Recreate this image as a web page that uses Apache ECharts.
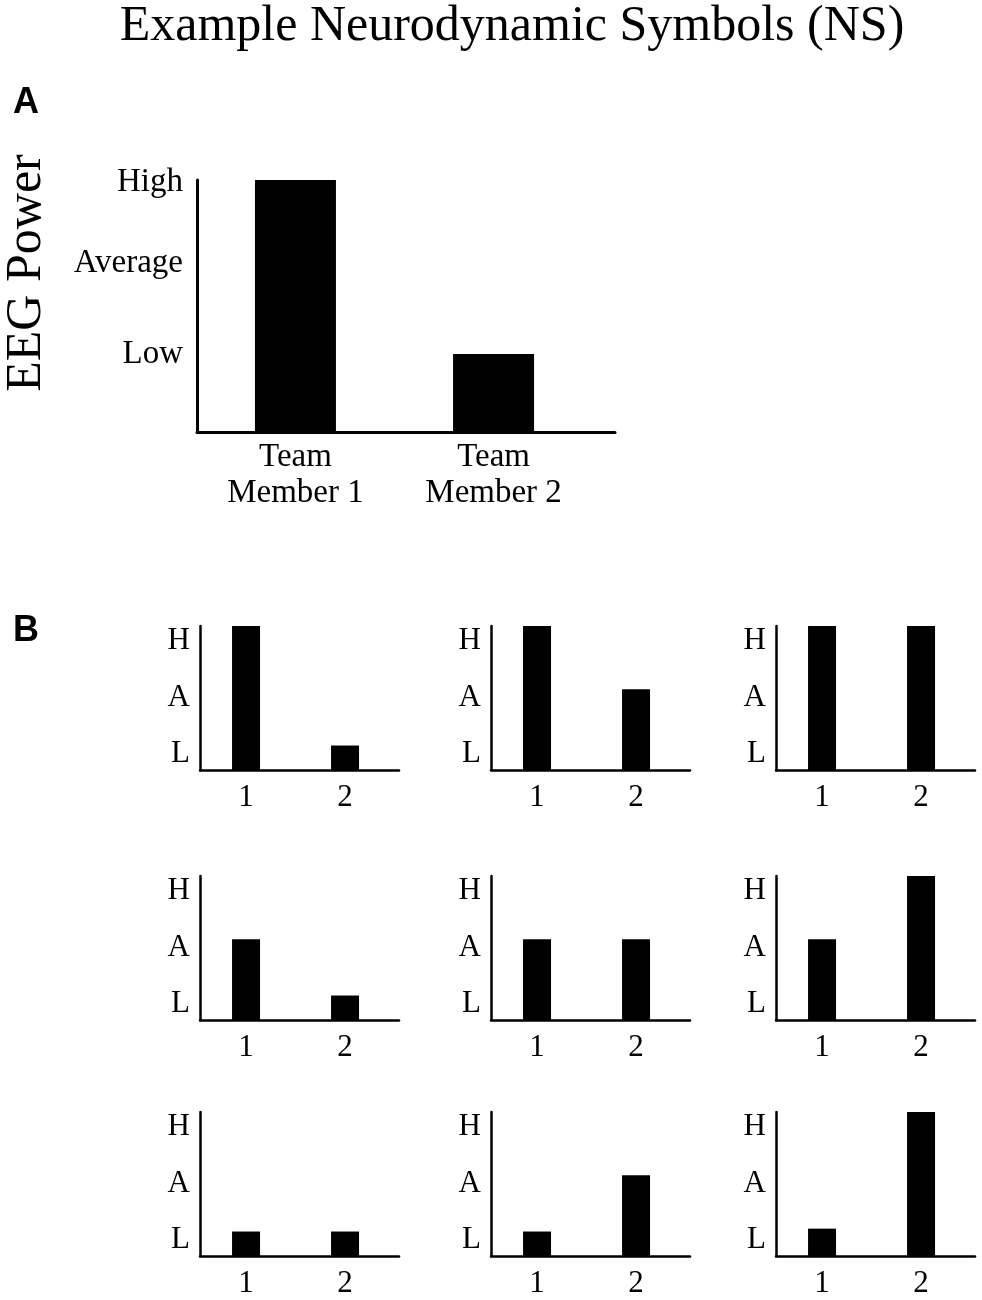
<!DOCTYPE html>
<html>
<head>
<meta charset="utf-8">
<script src="https://cdn.jsdelivr.net/npm/echarts@6/dist/echarts.min.js"></script>
<style>
  body { margin: 0; background: #fff; }
  #box { width: 982px; height: 1300px; }
</style>
</head>
<body>
<div id="box"></div>
<script>
// panel A
let memberLabels = ['Team\nMember 1', 'Team\nMember 2'];
let memberPositions = [1, 2];
let panelAValues = [100, 31];
let panelATickValues = [31, 67, 99];
let panelATickLabels = ['Low', 'Average', 'High'];

// panel B (9 small symbols, read row by row)
let symbolLabels = ['1', '2'];
let symbolTickValues = [11, 50, 90];
let symbolTickLabels = ['L', 'A', 'H'];
let ns1 = [100, 17];
let ns2 = [100, 56];
let ns3 = [100, 100];
let ns4 = [56, 17];
let ns5 = [56, 56];
let ns6 = [56, 100];
let ns7 = [17, 17];
let ns8 = [17, 56];
let ns9 = [19, 100];
let nsPanels = [ns1, ns2, ns3, ns4, ns5, ns6, ns7, ns8, ns9];

let serif = '"Liberation Serif", "Times New Roman", serif';
let sans = '"Liberation Sans", Arial, sans-serif';

let option = {
    animation: false,
    grid: [],
    xAxis: [],
    yAxis: [],
    series: [],
    graphic: [
        { type: 'text', style: { text: 'Example Neurodynamic Symbols (NS)', x: 512, y: 27, align: 'center', verticalAlign: 'middle', font: '50px ' + serif, fill: '#000' } },
        { type: 'text', style: { text: 'A', x: 26, y: 103, align: 'center', verticalAlign: 'middle', font: 'bold 36px ' + sans, fill: '#000' } },
        { type: 'text', style: { text: 'B', x: 26, y: 631, align: 'center', verticalAlign: 'middle', font: 'bold 36px ' + sans, fill: '#000' } },
        // rotated y title of panel A
        { type: 'text', x: 27, y: 273, rotation: Math.PI / 2, style: { text: 'EEG Power', align: 'center', verticalAlign: 'middle', font: '50px ' + serif, fill: '#000' } }
    ]
};

function addPanel(cfg) {
    let i = option.grid.length;
    option.grid.push({ left: cfg.left, top: cfg.top, width: cfg.width, height: cfg.height });
    option.xAxis.push({
        gridIndex: i,
        type: 'value',
        min: cfg.xMin,
        max: cfg.xMax,
        axisLine: { show: true, onZero: false, lineStyle: { color: '#000', width: cfg.lineWidth } },
        axisTick: { show: false },
        splitLine: { show: false },
        axisLabel: {
            customValues: memberPositions,
            formatter: function (v) { return cfg.labels[memberPositions.indexOf(v)]; },
            color: '#000',
            fontFamily: serif,
            fontSize: cfg.fontSize,
            lineHeight: cfg.lineHeight,
            margin: cfg.xMargin
        }
    });
    option.yAxis.push({
        gridIndex: i,
        type: 'value',
        min: 0,
        max: 100,
        axisLine: { show: true, onZero: false, lineStyle: { color: '#000', width: cfg.lineWidth } },
        axisTick: { show: false },
        splitLine: { show: false },
        axisLabel: {
            customValues: cfg.tickValues,
            formatter: function (v) { return cfg.tickLabels[cfg.tickValues.indexOf(v)]; },
            color: '#000',
            fontFamily: serif,
            fontSize: cfg.fontSize,
            margin: cfg.yMargin
        }
    });
    option.series.push({
        type: 'bar',
        xAxisIndex: i,
        yAxisIndex: i,
        barWidth: cfg.barWidth,
        silent: true,
        itemStyle: { color: '#000' },
        data: memberPositions.map(function (p, k) { return [p, cfg.values[k]]; })
    });
}

addPanel({
    left: 197, top: 180, width: 418, height: 252,
    xMin: 0.503, xMax: 2.613,
    labels: memberLabels, values: panelAValues,
    tickValues: panelATickValues, tickLabels: panelATickLabels,
    fontSize: 33, lineHeight: 36, xMargin: 7, yMargin: 14,
    barWidth: 81, lineWidth: 3
});

let colLeft = [200, 491, 776];
let rowTop = [626, 876, 1112];
nsPanels.forEach(function (vals, n) {
    addPanel({
        left: colLeft[n % 3], top: rowTop[Math.floor(n / 3)], width: 199, height: 144,
        xMin: 0.535, xMax: 2.545,
        labels: symbolLabels, values: vals,
        tickValues: symbolTickValues, tickLabels: symbolTickLabels,
        fontSize: 31, lineHeight: 31, xMargin: 12, yMargin: 10,
        barWidth: 28, lineWidth: 2.5
    });
});

let myChart = echarts.init(document.querySelector('#box'));
myChart.setOption(option);
</script>
</body>
</html>
